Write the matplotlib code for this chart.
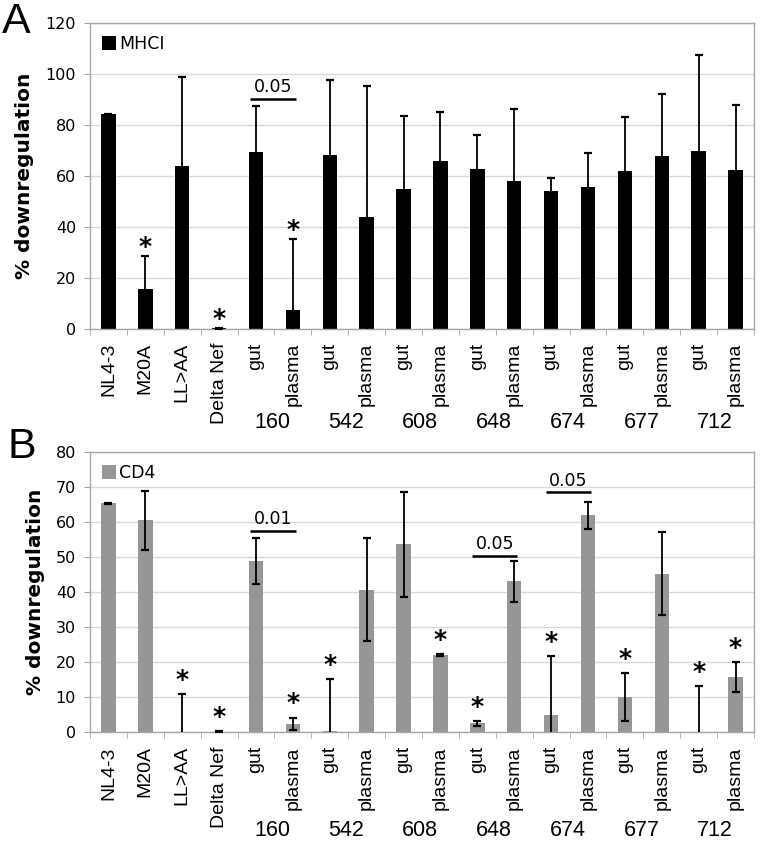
import matplotlib
import matplotlib.pyplot as plt
from matplotlib.patches import Patch
from matplotlib.transforms import blended_transform_factory
import numpy as np

matplotlib.use('Agg')

# categories
strain_labels = ['NL4-3', 'M20A', 'LL>AA', 'Delta Nef'] + ['gut', 'plasma'] * 7
patient_ids = ['160', '542', '608', '648', '674', '677', '712']

# panel A: MHCI downregulation (%)
mhci_values = [84.2, 15.6, 64.0, 0.2, 69.4, 7.5, 68.1, 44.0, 54.8, 66.0,
               62.7, 58.2, 54.2, 55.8, 62.1, 67.8, 69.8, 62.5]
mhci_errors = [0.3, 13.1, 34.9, 0.1, 18.1, 27.8, 29.5, 51.3, 28.6, 19.1,
               13.4, 28.0, 5.0, 13.2, 20.9, 24.4, 37.5, 25.3]
mhci_stars = [1, 3, 5]
mhci_pvalues = [(4, 5, 90.1, '0.05')]

# panel B: CD4 downregulation (%)
cd4_values = [65.3, 60.4, 0.0, 0.2, 48.8, 2.4, 0.5, 40.7, 53.6, 22.0,
              2.6, 43.0, 4.9, 61.8, 10.0, 45.2, 0.0, 15.7]
cd4_errors = [0.2, 8.3, 10.8, 0.2, 6.6, 1.8, 14.8, 14.7, 15.0, 0.2,
              0.7, 5.8, 16.8, 3.9, 6.8, 11.8, 13.1, 4.3]
cd4_stars = [2, 3, 5, 6, 9, 10, 12, 14, 16, 17]
cd4_pvalues = [(4, 5, 57.4, '0.01'), (10, 11, 50.3, '0.05'), (12, 13, 68.4, '0.05')]

FRAME = '#a6a6a6'
GRID = '#d9d9d9'


def draw_panel(ax, values, errors, stars, pvalues, color, legend_label, ymax, ystep,
               group_y, star_offset):
    x = np.arange(len(values))
    ax.bar(x, values, width=0.39, color=color, zorder=2)
    ax.errorbar(x, values, yerr=errors, fmt='none', ecolor='black', elinewidth=1.3,
                capsize=2.8, capthick=1.6, zorder=3)

    for i in stars:
        top = values[i] + errors[i]
        ax.annotate('*', xy=(i, top), xytext=(0, star_offset), textcoords='offset points',
                    ha='center', va='bottom', fontsize=18, fontweight='bold',
                    family='DejaVu Sans', zorder=4, annotation_clip=False)

    for left, right, y, text in pvalues:
        ax.plot([left - 0.15, right + 0.08], [y, y], color='black', lw=1.8,
                solid_capstyle='butt', zorder=4)
        ax.annotate(text, xy=((left + right) / 2 - 0.03, y), xytext=(0, 2),
                    textcoords='offset points', ha='center', va='bottom',
                    fontsize=12.5, family='DejaVu Sans')

    ax.set_xlim(-0.5, len(values) - 0.5)
    ax.set_ylim(0, ymax)
    ax.set_yticks(np.arange(0, ymax + 1, ystep))
    ax.yaxis.grid(True, color=GRID, lw=1.0, zorder=0)
    ax.set_axisbelow(True)
    for spine in ax.spines.values():
        spine.set_color(FRAME)
        spine.set_linewidth(1.0)

    ax.set_xticks(x)
    ax.set_xticklabels(strain_labels, rotation=90, family='Liberation Sans', fontsize=14,
                       va='top', ha='center')
    ax.set_xticks(np.arange(-0.5, len(values)), minor=True)
    ax.tick_params(axis='x', which='major', length=0, pad=10)
    ax.tick_params(axis='x', which='minor', length=4, color=FRAME, direction='out')
    ax.tick_params(axis='y', length=4, color=FRAME, direction='out', pad=6, labelsize=11.5)

    ax.set_ylabel('% downregulation', fontsize=14.5, fontweight='bold', labelpad=8)

    handle = Patch(facecolor=color, edgecolor='none')
    ax.legend([handle], [legend_label], loc='upper left', frameon=False, fontsize=12.5,
              handlelength=0.8, handleheight=0.9, handletextpad=0.2,
              borderaxespad=0.3, bbox_to_anchor=(0.0, 1.0))

    trans = blended_transform_factory(ax.transData, ax.transAxes)
    for k, pid in enumerate(patient_ids):
        ax.text(4.45 + 2 * k, group_y, pid, transform=trans, ha='center', va='center',
                fontsize=15.5, family=['Liberation Sans Narrow', 'Liberation Sans'])


plt.rcParams['font.family'] = ['DejaVu Sans']

fig = plt.figure(figsize=(7.6, 8.42), dpi=100, facecolor='white')
ax_a = fig.add_axes([0.1184, 0.6093, 0.8737, 0.3634])
ax_b = fig.add_axes([0.1184, 0.1303, 0.8737, 0.3333])

draw_panel(ax_a, mhci_values, mhci_errors, mhci_stars, mhci_pvalues, 'black', 'MHCI',
           120, 20, -0.305, -2)
draw_panel(ax_b, cd4_values, cd4_errors, cd4_stars, cd4_pvalues, '#969696', 'CD4',
           80, 10, -0.35, 1.5)

fig.text(0.002, 0.974, 'A', fontsize=31, family='Liberation Sans', va='center', ha='left')
fig.text(0.010, 0.469, 'B', fontsize=31, family='Liberation Sans', va='center', ha='left')

fig.savefig('out.png', dpi=100)
